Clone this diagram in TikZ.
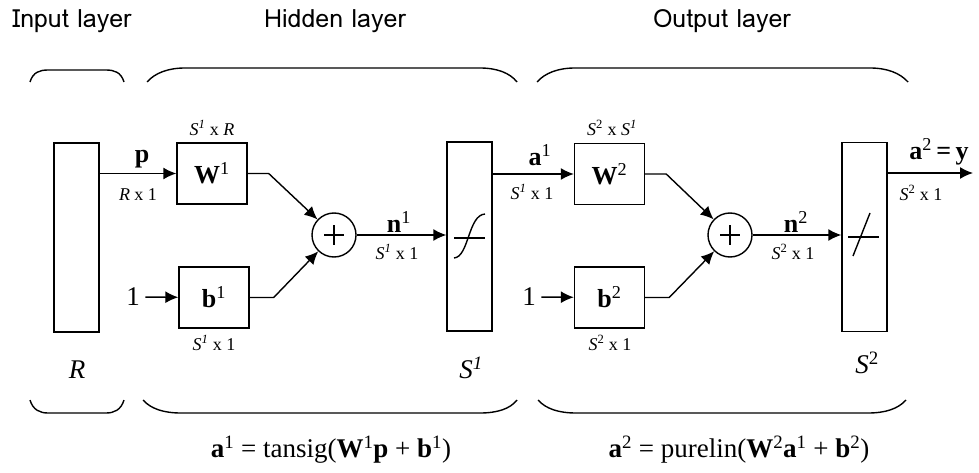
\documentclass[tikz,border=0pt]{standalone}
\usepackage{fontspec}
\setmainfont{Liberation Serif}
\newfontfamily\layfont{Loma}
\usetikzlibrary{arrows.meta}

\newcommand{\Sdim}[1]{\textit{S}\textsuperscript{#1}}

\begin{document}
\begin{tikzpicture}[x=1pt,y=-1pt,line width=1.4pt,
  box/.style={draw, inner sep=0pt, minimum width=70pt, minimum height=61pt},
  tall/.style={draw, inner sep=0pt, minimum width=45pt, minimum height=189pt},
  sum/.style={draw, circle, inner sep=0pt, minimum size=44pt},
  arr/.style={-{Latex[length=13pt,width=12pt]}},
  lay/.style={font=\layfont\fontsize{25}{30}\selectfont},
  dim/.style={font=\fontsize{18}{21}\selectfont, inner sep=0pt},
  sig/.style={font=\bfseries\fontsize{26}{30}\selectfont, inner sep=0pt},
  big/.style={font=\fontsize{27}{32}\selectfont, inner sep=0pt}]
\useasboundingbox (0,0) rectangle (979,473);

\node[lay] (tIn) at (72,21) {Input layer};
\node[lay] (tHid) at (335,21) {Hidden layer};
\node[lay] (tOut) at (722,21) {Output layer};

\draw (30,82) .. controls (33,72) and (40,70) .. (48,70) -- (106,70) .. controls (114,70) and (121,72) .. (124,82);
\draw (147,82) .. controls (155,73) and (168,68) .. (185,68) -- (480,68) .. controls (497,68) and (510,73) .. (517,82);
\draw (537,82) .. controls (545,73) and (558,68) .. (575,68) -- (870,68) .. controls (887,68) and (900,73) .. (908,82);
\draw (30,400) .. controls (33,410) and (40,413) .. (48,413) -- (106,413) .. controls (114,413) and (121,410) .. (124,400);
\draw (143,400) .. controls (151,409) and (164,413) .. (181,413) -- (480,413) .. controls (497,413) and (510,409) .. (517,400);
\draw (538,400) .. controls (546,409) and (559,413) .. (576,413) -- (868,413) .. controls (885,413) and (898,409) .. (906,400);

\node[tall] (inp) at (76.5,237.5) {};
\node[box] (W1) at (212,173.5) {};
\node[sig] (W1t) at (212,173.5) {W\textsuperscript{\mdseries 1}};
\node[box] (b1) at (214,297.5) {};
\node[sig] (b1t) at (214,297.5) {b\textsuperscript{\mdseries 1}};
\node[sum] (sum1) at (334,235) {};
\draw (sum1.center) ++(-10,0) -- ++(20,0);
\draw (sum1.center) ++(0,-10) -- ++(0,20);
\node[tall] (S1) at (469.5,236.5) {};
\draw (454,238) -- (485,238);
\draw (454,258) .. controls (469,257) and (468,215) .. (485,214);

\node[box] (W2) at (609.5,174) {};
\node[sig] (W2t) at (609.5,174) {W\textsuperscript{\mdseries 2}};
\node[box] (b2) at (609.5,297.5) {};
\node[sig] (b2t) at (609.5,297.5) {b\textsuperscript{\mdseries 2}};
\node[sum] (sum2) at (730,235) {};
\draw (sum2.center) ++(-10,0) -- ++(20,0);
\draw (sum2.center) ++(0,-10) -- ++(0,20);
\node[tall] (S2) at (864.5,237) {};
\draw (848,237) -- (879,237);
\draw (853,256) -- (870,213);

\node[big] (one1) at (133,297) {1};
\node[big] (one2) at (529,297) {1};
\coordinate (out) at (973,173);

\draw[arr] (inp.east |- W1) -- (W1);
\draw[arr, shorten <=5pt] (one1) -- (b1);
\draw[arr] (W1.east) -- ++(21,0) -- (sum1);
\draw[arr] (b1.east) -- ++(24,0) -- (sum1);
\draw[arr] (sum1) -- (S1.west |- sum1);
\draw[arr] (S1.east |- W2) -- (W2);
\draw[arr, shorten <=5pt] (one2) -- (b2);
\draw[arr] (W2.east) -- ++(21,0) -- (sum2);
\draw[arr] (b2.east) -- ++(24,0) -- (sum2);
\draw[arr] (sum2) -- (S2.west |- sum2);
\draw[arr] (S2.east |- out) -- (out);

\node[sig] (pLab) at (142,159) {p};
\node[dim] (pDim) at (138,195) {\textit{R} x 1};
\node[dim] (W1Dim) at (212,128) {\Sdim{\textit{1}} x \textit{R}};
\node[dim] (b1Dim) at (214,343) {\Sdim{\textit{1}} x 1};
\node[sig] (n1Lab) at (399,222) {n\textsuperscript{\mdseries 1}};
\node[dim] (n1Dim) at (397,252) {\Sdim{\textit{1}} x 1};
\node[sig] (a1Lab) at (540,155) {a\textsuperscript{\mdseries 1}};
\node[dim] (a1Dim) at (532,192) {\Sdim{\textit{1}} x 1};
\node[dim] (W2Dim) at (612,128) {\Sdim{2} x \Sdim{\textit{1}}};
\node[dim] (b2Dim) at (610,343) {\Sdim{2} x 1};
\node[sig] (n2Lab) at (796,222) {n\textsuperscript{\mdseries 2}};
\node[dim] (n2Dim) at (793,252) {\Sdim{2} x 1};
\node[sig] (a2Lab) at (939,152) {a\textsuperscript{\mdseries 2}\,=\,y};
\node[dim] (a2Dim) at (921,193) {\Sdim{2} x 1};

\node[big] (RLab) at (77,370) {\textit{R}};
\node[big] (S1Lab) at (471,368) {\Sdim{\textit{1}}};
\node[big] (S2Lab) at (867,363) {\Sdim{2}};

\node[big] (eq1) at (331,450) {\textbf{a}\textsuperscript{1} = tansig(\textbf{W}\textsuperscript{1}\textbf{p} + \textbf{b}\textsuperscript{1})};
\node[big] (eq2) at (739,450) {\textbf{a}\textsuperscript{2} = purelin(\textbf{W}\textsuperscript{2}\textbf{a}\textsuperscript{1} + \textbf{b}\textsuperscript{2})};
\end{tikzpicture}
\end{document}
